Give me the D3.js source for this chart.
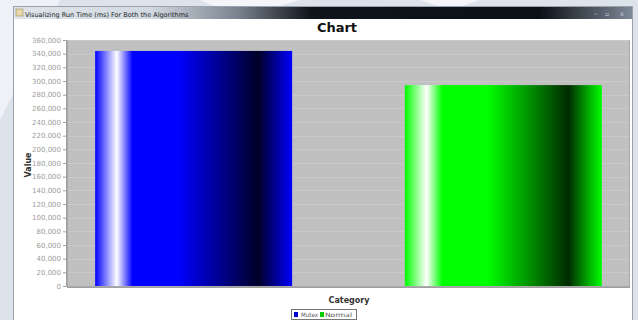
<!DOCTYPE html>
<meta charset="utf-8">
<script src="https://d3js.org/d3.v7.min.js"></script>
<body>
<div id="chart"></div>
<style>
 body { margin: 0; background: #dfe4ea; }
 text { font-family: Tahoma, 'DejaVu Sans', sans-serif; }
</style>
<script>

// data
var categories = ["Mutex", "Normal"];
var values = [344000, 294000];
var colors = ["#0000ff", "#00ff00"];
var darks = ["#000028", "#002a00"];
var yTicks = d3.range(0, 360001, 20000);

var W = 638, H = 320;

var svg = d3.select("#chart").append("svg")
    .attr("width", W).attr("height", H);

var defs = svg.append("defs");

// desktop background with faint diagonal shapes
svg.append("rect").attr("width", W).attr("height", H).attr("fill", "#dde3ea");
svg.append("path").attr("d", "M0,0 L60,0 L0,120 Z").attr("fill", "#eef1f5");
svg.append("path").attr("d", "M200,0 L300,0 L240,18 Z").attr("fill", "#f3f5f8");
svg.append("path").attr("d", "M420,0 L480,0 L450,10 Z").attr("fill", "#f3f5f8");

// window
svg.append("rect").attr("x", 13.5).attr("y", 6.5).attr("width", 619).attr("height", 320)
    .attr("fill", "#ffffff").attr("stroke", "#9aa2ad");

// title bar gradient
var tb = defs.append("linearGradient").attr("id", "titlebar");
tb.append("stop").attr("offset", "0%").attr("stop-color", "#dfe4ea");
tb.append("stop").attr("offset", "22%").attr("stop-color", "#d3d9e1");
tb.append("stop").attr("offset", "36%").attr("stop-color", "#7b8490");
tb.append("stop").attr("offset", "48%").attr("stop-color", "#10151c");
tb.append("stop").attr("offset", "85%").attr("stop-color", "#0b1017");
tb.append("stop").attr("offset", "100%").attr("stop-color", "#7d8896");
svg.append("rect").attr("x", 14).attr("y", 7).attr("width", 618).attr("height", 12)
    .attr("fill", "url(#titlebar)");
svg.append("rect").attr("x", 16).attr("y", 9).attr("width", 7).attr("height", 7)
    .attr("fill", "#e8d9a8").attr("stroke", "#8c7a4a").attr("stroke-width", 0.5);
svg.append("text").attr("x", 25).attr("y", 16.5)
    .attr("font-size", 6.5).attr("fill", "#1a1f26")
    .text("Visualizing Run Time (ms) For Both the Algorithms");
// window buttons
svg.append("text").attr("x", 594).attr("y", 16).attr("font-size", 7).attr("fill", "#cfd5dd").text("–");
svg.append("text").attr("x", 605).attr("y", 16).attr("font-size", 6).attr("fill", "#cfd5dd").text("▫");
svg.append("text").attr("x", 620).attr("y", 16).attr("font-size", 6.5).attr("fill", "#cfd5dd").text("x");

// chart title
svg.append("text").attr("x", 337).attr("y", 32).attr("text-anchor", "middle")
    .attr("font-size", 13).attr("font-weight", "bold").attr("fill", "#111")
    .text("Chart");

// plot area
var plot = {left: 67, right: 630, top: 40, bottom: 287};

var y = d3.scaleLinear().domain([0, 360000]).range([286, 40]);

var pw = plot.right - plot.left;
var x = d3.scaleBand()
    .domain(categories)
    .range([plot.left + pw * 0.05, plot.right - pw * 0.05])
    .paddingInner(0.364)
    .paddingOuter(0);

svg.append("rect").attr("x", plot.left + 0.5).attr("y", plot.top + 0.5)
    .attr("width", pw - 1).attr("height", plot.bottom - plot.top - 1)
    .attr("fill", "#c0c0c0").attr("stroke", "#a8a8a8");

// grid lines
svg.append("g").selectAll("line").data(yTicks.slice(1)).enter().append("line")
    .attr("x1", plot.left + 1).attr("x2", plot.right - 1)
    .attr("y1", function(d) { return Math.round(y(d)) + 0.5; })
    .attr("y2", function(d) { return Math.round(y(d)) + 0.5; })
    .attr("stroke", "#c9c9c9").attr("stroke-width", 1);

// bar gradients
categories.forEach(function(c, i) {
  var g = defs.append("linearGradient").attr("id", "grad" + i);
  g.append("stop").attr("offset", "0%").attr("stop-color", colors[i]);
  g.append("stop").attr("offset", "11%").attr("stop-color", "#ffffff");
  g.append("stop").attr("offset", "19%").attr("stop-color", colors[i]);
  g.append("stop").attr("offset", "42%").attr("stop-color", colors[i]);
  g.append("stop").attr("offset", "83%").attr("stop-color", darks[i]);
  g.append("stop").attr("offset", "100%").attr("stop-color", colors[i]);
});

svg.append("g").selectAll("rect").data(values).enter().append("rect")
    .attr("x", function(d, i) { return x(categories[i]); })
    .attr("y", function(d) { return y(d); })
    .attr("width", x.bandwidth())
    .attr("height", function(d) { return y(0) - y(d); })
    .attr("fill", function(d, i) { return "url(#grad" + i + ")"; });

// y axis
var yAxis = svg.append("g")
    .attr("transform", "translate(" + (plot.left - 1) + ",0)")
    .call(d3.axisLeft(y).tickValues(yTicks).tickSize(3).tickPadding(2)
      .tickFormat(d3.format(",")));
yAxis.select(".domain").attr("stroke", "#a0a0a0");
yAxis.selectAll(".tick line").attr("stroke", "#a0a0a0");
yAxis.selectAll("text").attr("font-size", 7).attr("fill", "#9c9c9c")
    .attr("font-family", "Tahoma, 'DejaVu Sans', sans-serif");

// category axis line
svg.append("line").attr("x1", plot.left).attr("x2", plot.right)
    .attr("y1", plot.bottom + 0.5).attr("y2", plot.bottom + 0.5)
    .attr("stroke", "#a0a0a0");

// axis labels
svg.append("text").attr("transform", "translate(31,165) rotate(-90)")
    .attr("text-anchor", "middle").attr("font-size", 8).attr("font-weight", "bold")
    .attr("fill", "#333").text("Value");
svg.append("text").attr("x", 349).attr("y", 303).attr("text-anchor", "middle")
    .attr("font-size", 8).attr("font-weight", "bold").attr("fill", "#333").text("Category");

// legend
var legendX = [294, 320];
var legendTextX = [301, 325];
var legendLen = [17, 27];
var lg = svg.append("g");
lg.append("rect").attr("x", 291.5).attr("y", 309.5).attr("width", 65).attr("height", 10)
    .attr("fill", "#fff").attr("stroke", "#777");
categories.forEach(function(c, i) {
  lg.append("rect").attr("x", legendX[i]).attr("y", 312).attr("width", 4).attr("height", 5)
      .attr("fill", i == 0 ? "#0000cc" : "#00cc00");
  lg.append("text").attr("x", legendTextX[i]).attr("y", 317.3).attr("font-size", 6)
      .attr("textLength", legendLen[i]).attr("lengthAdjust", "spacingAndGlyphs")
      .attr("fill", "#555").text(c);
});

</script>
</body>
